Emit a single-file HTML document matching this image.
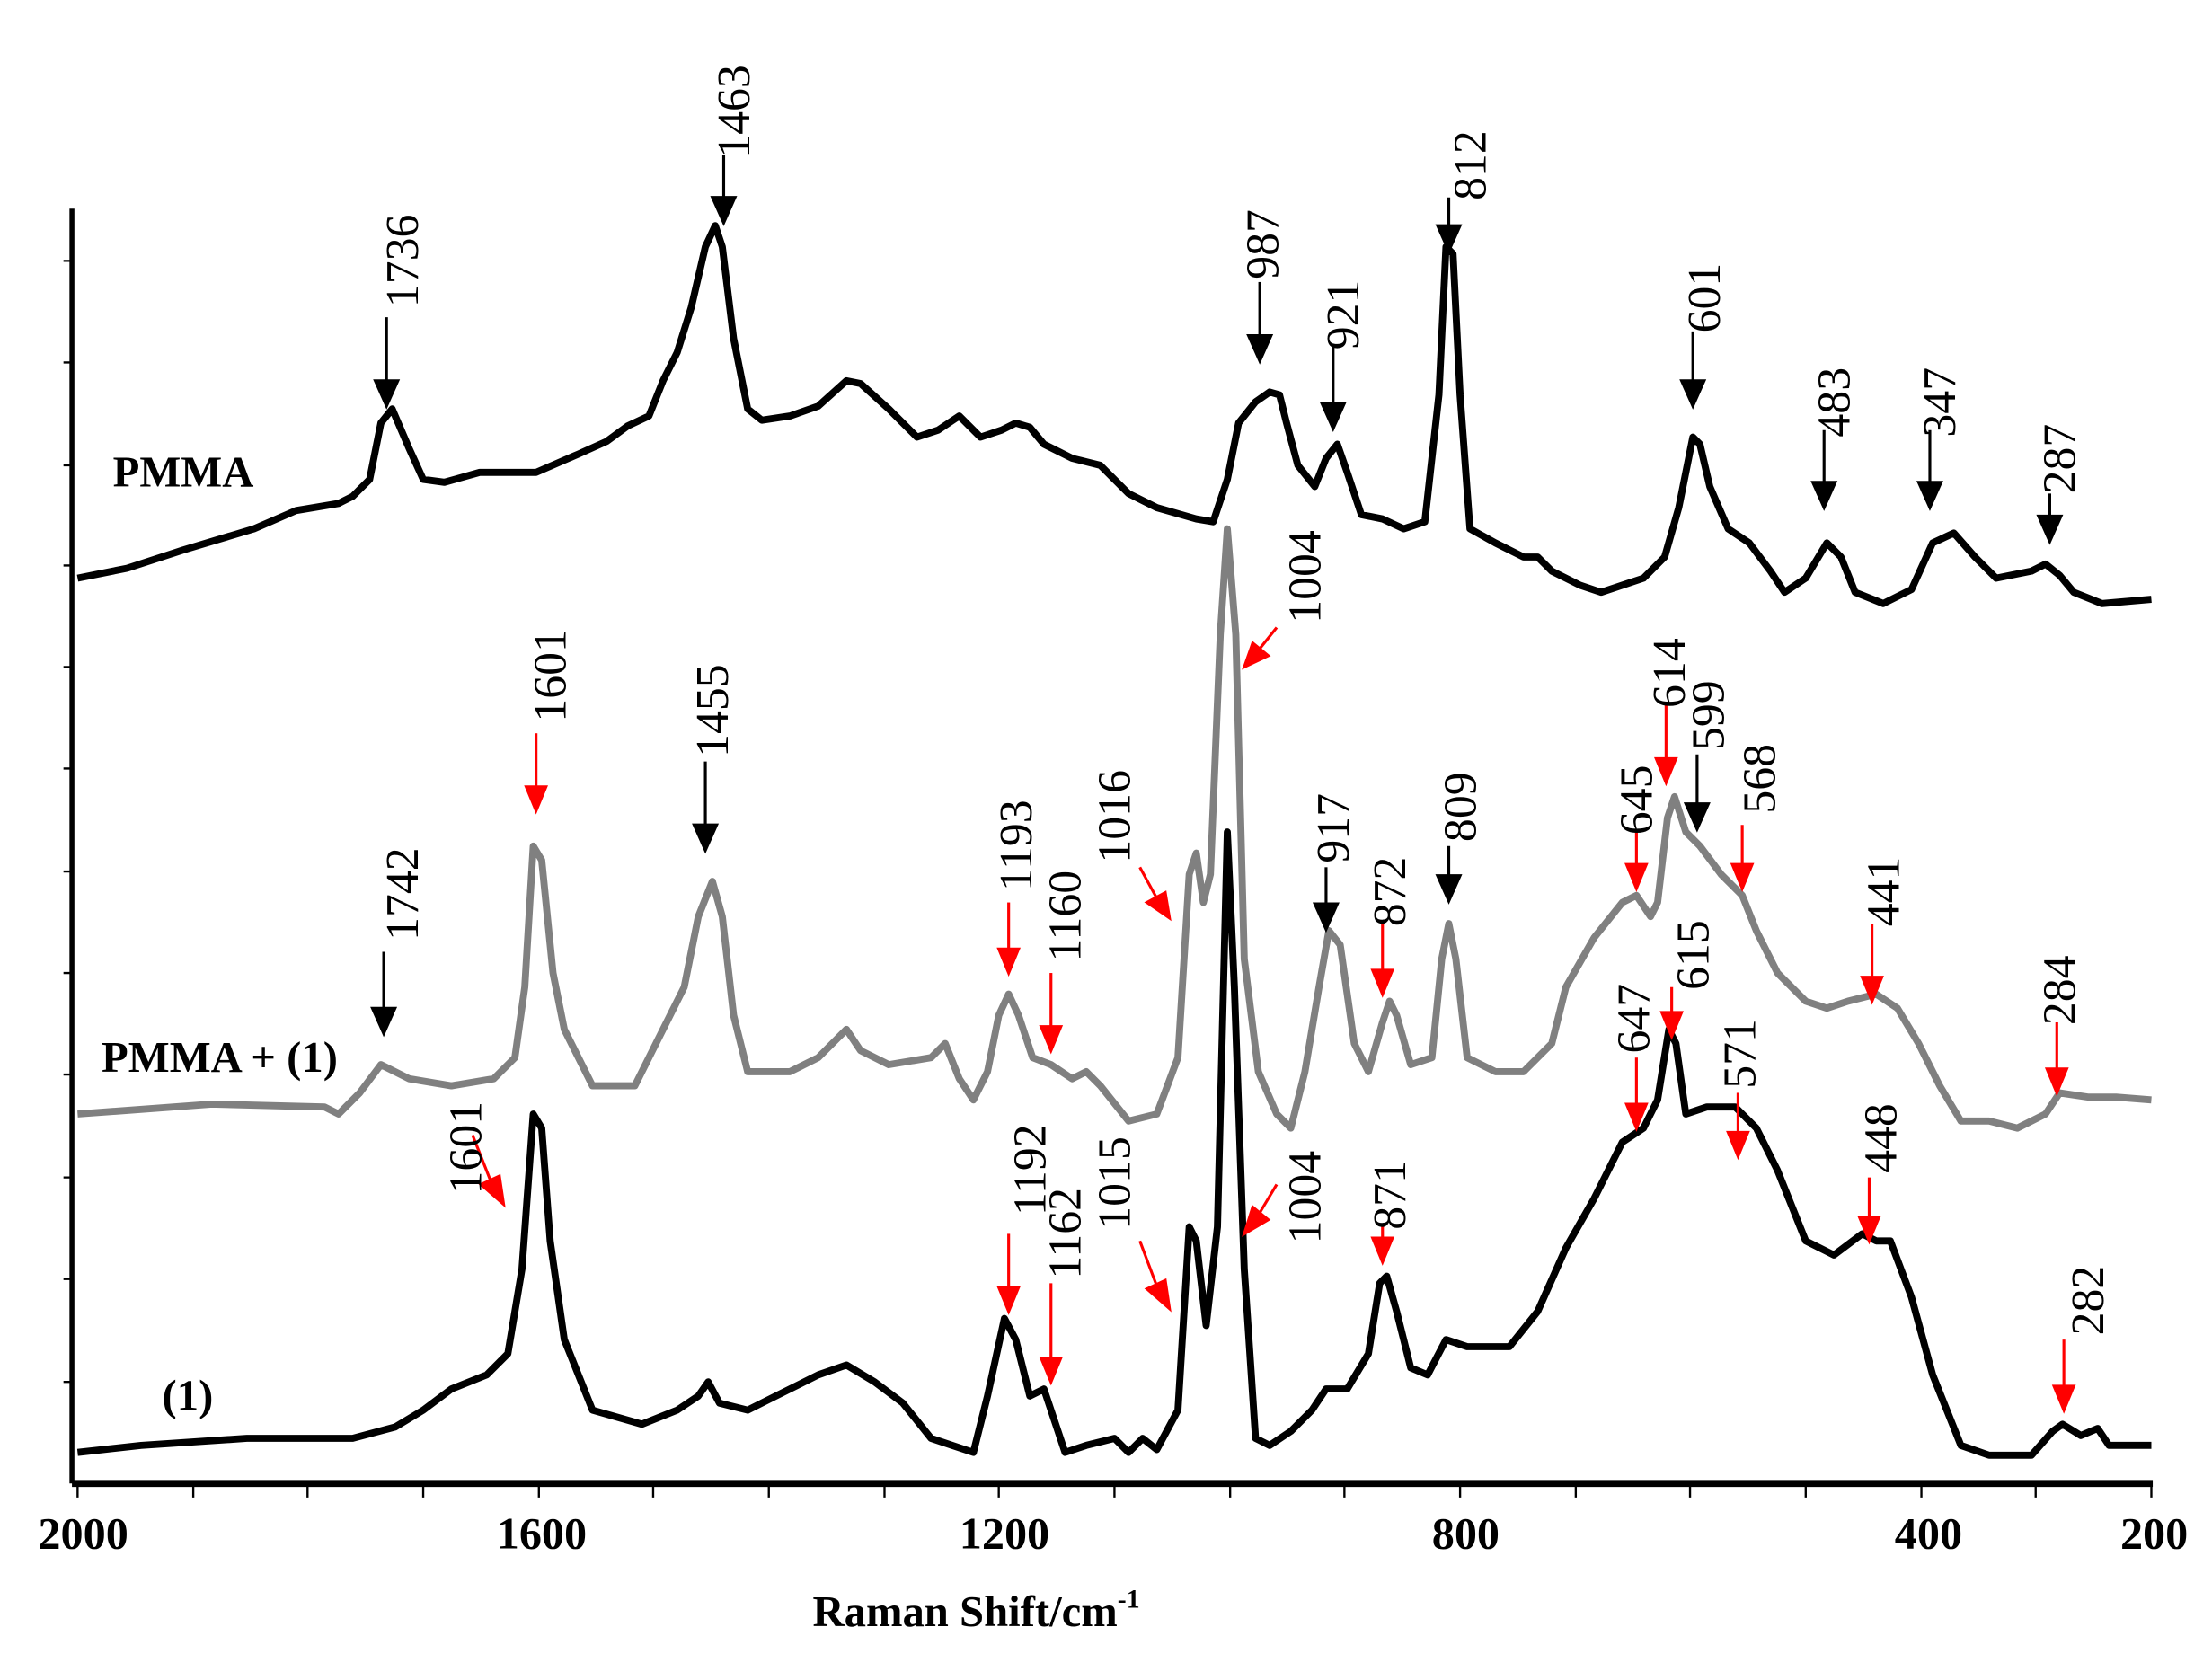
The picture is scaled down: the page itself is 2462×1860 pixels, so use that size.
<!DOCTYPE html>
<html><head><meta charset="utf-8"><style>
html,body{margin:0;padding:0;background:#fff;}
svg{display:block;}
text{font-family:"Liberation Serif",serif;}
</style></head><body>
<svg width="2462" height="1860" viewBox="0 0 1568 1185" preserveAspectRatio="none" xmlns="http://www.w3.org/2000/svg">
<rect width="1568" height="1185" fill="#fff"/>
<g stroke="#000" fill="none">
<line x1="51" y1="148" x2="51" y2="1052" stroke-width="3.5"/>
<line x1="51" y1="1052" x2="1526" y2="1052" stroke-width="5"/>
<path stroke-width="1.5" d="M45,185H51M45,257H51M45,330H51M45,401H51M45,473H51M45,545H51M45,618H51M45,690H51M45,762H51M45,835H51M45,907H51M45,980H51"/>
<path stroke-width="1.5" d="M55,1052v10M137,1052v10M218,1052v10M300,1052v10M382,1052v10M463,1052v10M545,1052v10M627,1052v10M708,1052v10M790,1052v10M872,1052v10M953,1052v10M1035,1052v10M1117,1052v10M1198,1052v10M1280,1052v10M1362,1052v10M1443,1052v10M1525,1052v10"/>
</g>
<g font-size="32" font-weight="bold" text-anchor="middle">
<text x="59" y="1098">2000</text><text x="384" y="1098">1600</text><text x="712" y="1098">1200</text><text x="1039" y="1098">800</text><text x="1367" y="1098">400</text><text x="1527" y="1098">200</text>
</g>
<text x="692" y="1153" font-size="31" font-weight="bold" text-anchor="middle">Raman Shift/cm<tspan font-size="19" dy="-13">-1</tspan></text>
<g fill="none" stroke-linejoin="round" stroke-width="5">
<polyline stroke="#000" points="55,410 90,403 130,390 180,375 210,362 240,357 250,352 262,340 270,300 278,290 290,318 300,340 315,342 340,335 380,335 410,322 430,313 445,302 460,295 470,270 480,250 490,218 500,175 507,160 512,175 520,240 530,290 540,298 560,295 580,288 600,270 610,272 630,290 650,310 665,305 680,295 695,310 710,305 720,300 730,303 740,315 760,325 780,330 800,350 820,360 848,368 860,370 870,340 878,300 890,285 900,278 907,280 912,300 920,330 932,345 940,325 948,315 955,335 965,365 980,368 995,375 1010,370 1020,280 1025,175 1030,180 1035,280 1042,375 1060,385 1080,395 1090,395 1100,405 1120,415 1135,420 1150,415 1165,410 1180,395 1190,360 1200,310 1205,315 1212,345 1225,375 1240,385 1255,405 1265,420 1280,410 1295,385 1305,395 1315,420 1335,428 1355,418 1370,385 1385,378 1400,395 1415,410 1440,405 1450,400 1460,408 1470,420 1490,428 1525,425"/>
<polyline stroke="#808080" points="55,790 150,783 230,785 240,790 255,775 270,755 290,765 320,770 350,765 365,750 372,700 378,600 384,610 392,690 400,730 420,770 450,770 465,740 475,720 485,700 495,650 505,625 512,650 520,720 530,760 560,760 580,750 600,730 610,745 630,755 660,750 670,740 680,765 690,780 700,760 708,720 715,705 722,720 732,750 745,755 760,765 770,760 780,770 800,795 820,790 835,750 843,620 848,605 853,640 858,620 865,450 870,375 876,450 882,680 892,760 905,790 915,800 925,760 935,700 942,660 950,670 960,740 970,760 980,725 985,710 990,720 1000,755 1015,750 1022,680 1027,655 1032,680 1040,750 1060,760 1080,760 1100,740 1110,700 1130,665 1150,640 1160,635 1170,650 1175,640 1182,580 1187,565 1195,590 1205,600 1220,620 1235,635 1245,660 1260,690 1280,710 1295,715 1310,710 1330,705 1345,715 1360,740 1375,770 1390,795 1410,795 1430,800 1450,790 1460,775 1480,778 1500,778 1525,780"/>
<polyline stroke="#000" points="55,1030 100,1025 175,1020 250,1020 280,1012 300,1000 320,985 345,975 360,960 370,900 378,790 384,800 390,880 400,950 420,1000 455,1010 480,1000 495,990 502,980 510,995 530,1000 550,990 580,975 600,968 620,980 640,995 660,1020 675,1025 690,1030 700,990 712,935 720,950 730,990 740,985 745,1000 755,1030 770,1025 790,1020 800,1030 810,1020 820,1028 835,1000 843,870 848,880 855,940 863,870 870,590 875,700 882,900 890,1020 900,1025 915,1015 930,1000 940,985 955,985 970,960 978,910 983,905 990,930 1000,970 1012,975 1025,950 1040,955 1070,955 1090,930 1110,885 1130,850 1150,810 1165,800 1175,780 1183,730 1188,740 1195,790 1210,785 1230,785 1245,800 1260,830 1280,880 1300,890 1320,875 1330,880 1340,880 1355,920 1370,975 1390,1025 1410,1032 1440,1032 1455,1015 1462,1010 1475,1018 1487,1013 1495,1025 1525,1025"/>
</g>
<g font-size="31" font-weight="bold">
<text x="80" y="345">PMMA</text>
<text x="72" y="760">PMMA + (1)</text>
<text x="115" y="1000">(1)</text>
</g>
<g stroke-width="2">
<g stroke="#000" fill="#000">
<line x1="274" y1="225" x2="274" y2="272"/><path d="M266,270h16l-8,18z"/>
<line x1="513" y1="110" x2="513" y2="142"/><path d="M505,140h16l-8,18z"/>
<line x1="893" y1="200" x2="893" y2="240"/><path d="M885,238h16l-8,18z"/>
<line x1="945" y1="245" x2="945" y2="288"/><path d="M937,286h16l-8,18z"/>
<line x1="1027" y1="140" x2="1027" y2="163"/><path d="M1019,160h16l-8,18z"/>
<line x1="1200" y1="235" x2="1200" y2="272"/><path d="M1192,270h16l-8,18z"/>
<line x1="1293" y1="305" x2="1293" y2="344"/><path d="M1285,342h16l-8,18z"/>
<line x1="1368" y1="305" x2="1368" y2="344"/><path d="M1360,342h16l-8,18z"/>
<line x1="1453" y1="350" x2="1453" y2="368"/><path d="M1445,366h16l-8,18z"/>
<line x1="272" y1="675" x2="272" y2="717"/><path d="M264,715h16l-8,18z"/>
<line x1="500" y1="540" x2="500" y2="587"/><path d="M492,585h16l-8,18z"/>
<line x1="940" y1="615" x2="940" y2="643"/><path d="M932,641h16l-8,18z"/>
<line x1="1027" y1="600" x2="1027" y2="623"/><path d="M1019,621h16l-8,18z"/>
<line x1="1203" y1="535" x2="1203" y2="572"/><path d="M1195,570h16l-8,18z"/>
</g>
<g stroke="#f00" fill="#f00">
<line x1="380" y1="520" x2="380" y2="560"/><path d="M373,558h14l-7,17z"/>
<line x1="715" y1="640" x2="715" y2="675"/><path d="M708,673h14l-7,17z"/>
<line x1="745" y1="690" x2="745" y2="730"/><path d="M738,728h14l-7,17z"/>
<line x1="980" y1="655" x2="980" y2="690"/><path d="M973,688h14l-7,17z"/>
<line x1="1160" y1="590" x2="1160" y2="615"/><path d="M1153,613h14l-7,17z"/>
<line x1="1181" y1="500" x2="1181" y2="540"/><path d="M1174,538h14l-7,17z"/>
<line x1="1235" y1="585" x2="1235" y2="615"/><path d="M1228,613h14l-7,17z"/>
<line x1="1327" y1="655" x2="1327" y2="695"/><path d="M1320,693h14l-7,17z"/>
<line x1="1458" y1="725" x2="1458" y2="760"/><path d="M1451,758h14l-7,17z"/>
<line x1="715" y1="875" x2="715" y2="915"/><path d="M708,913h14l-7,17z"/>
<line x1="745" y1="910" x2="745" y2="965"/><path d="M738,963h14l-7,17z"/>
<line x1="980" y1="868" x2="980" y2="880"/><path d="M973,878h14l-7,17z"/>
<line x1="1160" y1="750" x2="1160" y2="785"/><path d="M1153,783h14l-7,17z"/>
<line x1="1185" y1="700" x2="1185" y2="720"/><path d="M1178,718h14l-7,17z"/>
<line x1="1232" y1="775" x2="1232" y2="805"/><path d="M1225,803h14l-7,17z"/>
<line x1="1325" y1="835" x2="1325" y2="865"/><path d="M1318,863h14l-7,17z"/>
<line x1="1463" y1="950" x2="1463" y2="985"/><path d="M1456,983h14l-7,17z"/>
<line x1="808" y1="615" x2="820" y2="637"/><path d="M813,640l13,-7l3,18z"/>
<line x1="905" y1="445" x2="893" y2="460"/><path d="M888,456l11,9l-17,8z"/>
<line x1="335" y1="805" x2="348" y2="838"/><path d="M341,840l13,-6l3,20z"/>
<line x1="808" y1="880" x2="820" y2="912"/><path d="M813,914l13,-6l3,20z"/>
<line x1="905" y1="840" x2="893" y2="860"/><path d="M888,856l11,9l-17,10z"/>
</g>
</g>
<g font-size="33">
<text transform="translate(296,218) rotate(-90)">1736</text>
<text transform="translate(531,112) rotate(-90)">1463</text>
<text transform="translate(906,198) rotate(-90)">987</text>
<text transform="translate(963,248) rotate(-90)">921</text>
<text transform="translate(1053,142) rotate(-90)">812</text>
<text transform="translate(1219,236) rotate(-90)">601</text>
<text transform="translate(1311,310) rotate(-90)">483</text>
<text transform="translate(1386,310) rotate(-90)">347</text>
<text transform="translate(1471,350) rotate(-90)">287</text>
<text transform="translate(296,667) rotate(-90)">1742</text>
<text transform="translate(401,512) rotate(-90)">1601</text>
<text transform="translate(516,537) rotate(-90)">1455</text>
<text transform="translate(731,632) rotate(-90)">1193</text>
<text transform="translate(766,682) rotate(-90)">1160</text>
<text transform="translate(801,612) rotate(-90)">1016</text>
<text transform="translate(936,442) rotate(-90)">1004</text>
<text transform="translate(956,612) rotate(-90)">917</text>
<text transform="translate(996,657) rotate(-90)">872</text>
<text transform="translate(1046,597) rotate(-90)">809</text>
<text transform="translate(1171,592) rotate(-90)">645</text>
<text transform="translate(1194,502) rotate(-90)">614</text>
<text transform="translate(1222,532) rotate(-90)">599</text>
<text transform="translate(1258,577) rotate(-90)">568</text>
<text transform="translate(1346,657) rotate(-90)">441</text>
<text transform="translate(1471,727) rotate(-90)">284</text>
<text transform="translate(341,847) rotate(-90)">1601</text>
<text transform="translate(741,862) rotate(-90)">1192</text>
<text transform="translate(766,907) rotate(-90)">1162</text>
<text transform="translate(801,872) rotate(-90)">1015</text>
<text transform="translate(936,882) rotate(-90)">1004</text>
<text transform="translate(996,872) rotate(-90)">871</text>
<text transform="translate(1169,747) rotate(-90)">647</text>
<text transform="translate(1211,702) rotate(-90)">615</text>
<text transform="translate(1244,772) rotate(-90)">571</text>
<text transform="translate(1344,832) rotate(-90)">448</text>
<text transform="translate(1491,947) rotate(-90)">282</text>
</g>
</svg>
</body></html>
